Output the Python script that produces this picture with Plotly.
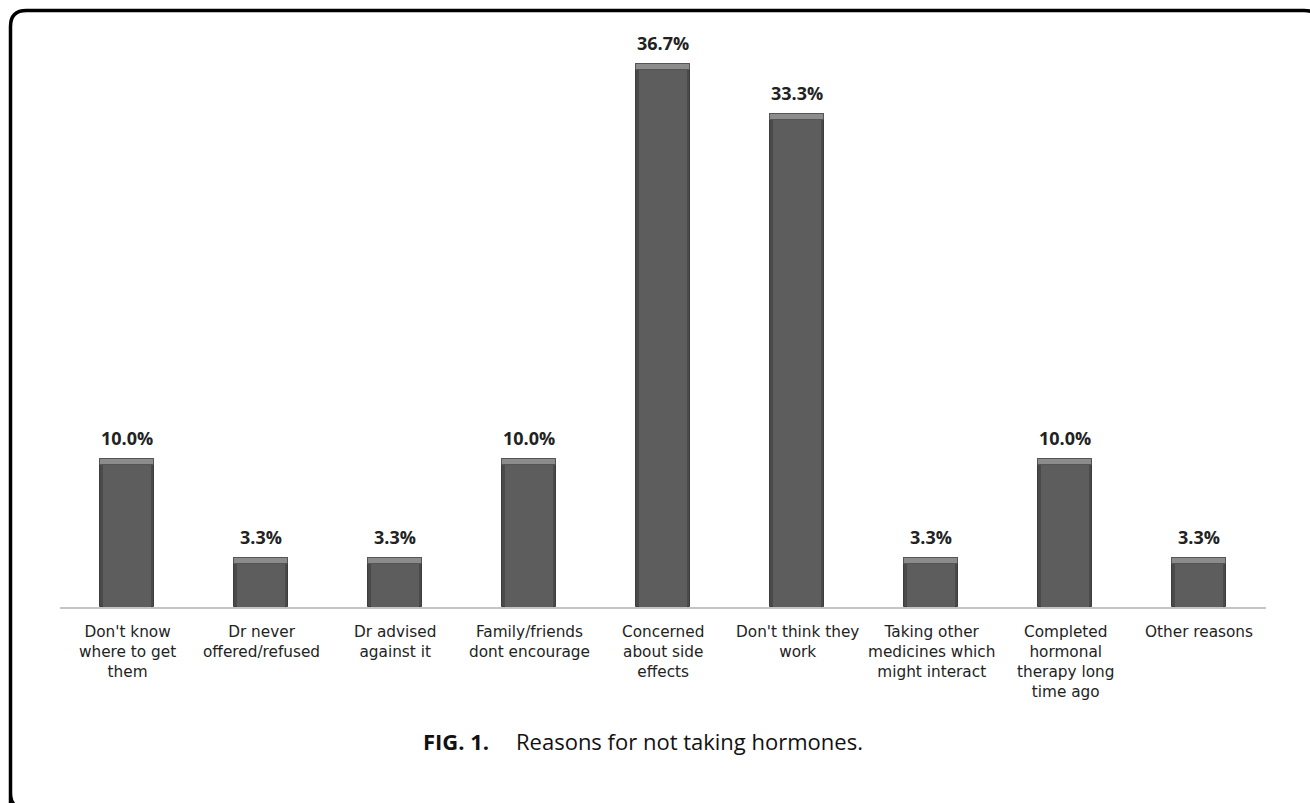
import plotly.graph_objects as go

categories = [
    "Don't know<br>where to get<br>them",
    "Dr never<br>offered/refused",
    "Dr advised<br>against it",
    "Family/friends<br>dont encourage",
    "Concerned<br>about side<br>effects",
    "Don't think they<br>work",
    "Taking other<br>medicines which<br>might interact",
    "Completed<br>hormonal<br>therapy long<br>time ago",
    "Other reasons",
]
values = [10.0, 3.3, 3.3, 10.0, 36.7, 33.3, 3.3, 10.0, 3.3]
value_labels = ["10.0%", "3.3%", "3.3%", "10.0%", "36.7%", "33.3%", "3.3%", "10.0%", "3.3%"]
caption_bold = "FIG. 1."
caption_text = "Reasons for not taking hormones."

W, H = 1310, 803
ML, MR, MT, MB = 60, 44, 40, 196
PW, PH = W - ML - MR, H - MT - MB
Y_TOP = 38.31

def px(x):
    return (x - ML) / PW

def py(y):
    return (H - MB - y) / PH

FONT = "Open Sans"
xs = list(range(len(categories)))
bevel = 0.4

fig = go.Figure()
# outer (dark edges)
fig.add_trace(go.Bar(
    x=xs, y=values, width=0.405,
    marker=dict(color="#4a4a4a", line=dict(color="#3c3c3c", width=1)),
    hoverinfo="skip", showlegend=False,
))
# inner face
fig.add_trace(go.Bar(
    x=xs, y=[v - bevel for v in values], width=0.355,
    marker=dict(color="#5d5d5d", line=dict(width=0)),
    hoverinfo="skip", showlegend=False,
))
# top bevel
fig.add_trace(go.Bar(
    x=xs, y=[bevel] * len(values), base=[v - bevel for v in values], width=0.405,
    marker=dict(color="#8c8c8c", line=dict(color="#555555", width=1)),
    hoverinfo="skip", showlegend=False,
))

for x, v, lab in zip(xs, values, value_labels):
    fig.add_annotation(x=x, y=v, text="<b>" + lab + "</b>", showarrow=False,
                       yanchor="middle", yshift=21,
                       font=dict(family=FONT, size=18, color="#222222"))
for x, c in zip(xs, categories):
    fig.add_annotation(x=x, y=0, text=c, showarrow=False, yanchor="top",
                       yshift=-13.5, align="center",
                       font=dict(family="DejaVu Sans", size=15.3, color="#222222"))

fig.add_annotation(xref="paper", yref="paper", x=px(491), y=py(741),
                   text="<b>" + caption_bold + "</b>",
                   showarrow=False, xanchor="right", yanchor="middle",
                   font=dict(family=FONT, size=22, color="#111111"))
fig.add_annotation(xref="paper", yref="paper", x=px(514), y=py(741),
                   text=caption_text,
                   showarrow=False, xanchor="left", yanchor="middle",
                   font=dict(family=FONT, size=22, color="#111111"))

# Rounded frame
L, T, R, B, r = 10.5, 10.5, 1320, 809, 16
path = (f"M {px(L)},{py(B)} L {px(L)},{py(T + r)} Q {px(L)},{py(T)} {px(L + r)},{py(T)} "
        f"L {px(R - r)},{py(T)} Q {px(R)},{py(T)} {px(R)},{py(T + r)} "
        f"L {px(R)},{py(B - r)} Q {px(R)},{py(B)} {px(R - r)},{py(B)} "
        f"L {px(L + r)},{py(B)} Q {px(L)},{py(B)} {px(L)},{py(B - r)} Z")
fig.add_shape(type="path", path=path, xref="paper", yref="paper",
              line=dict(color="black", width=3.5), layer="above")

fig.update_layout(
    width=W, height=H,
    margin=dict(l=ML, r=MR, t=MT, b=MB),
    paper_bgcolor="white", plot_bgcolor="white",
    barmode="overlay", bargap=0,
    xaxis=dict(range=[-0.5, 8.5], showticklabels=False, showgrid=False, zeroline=False,
               showline=True, linecolor="#c4c4c4", linewidth=2, ticks="", fixedrange=True),
    yaxis=dict(range=[0, Y_TOP], visible=False, showgrid=False, zeroline=False),
)
fig.write_html("out.html")
